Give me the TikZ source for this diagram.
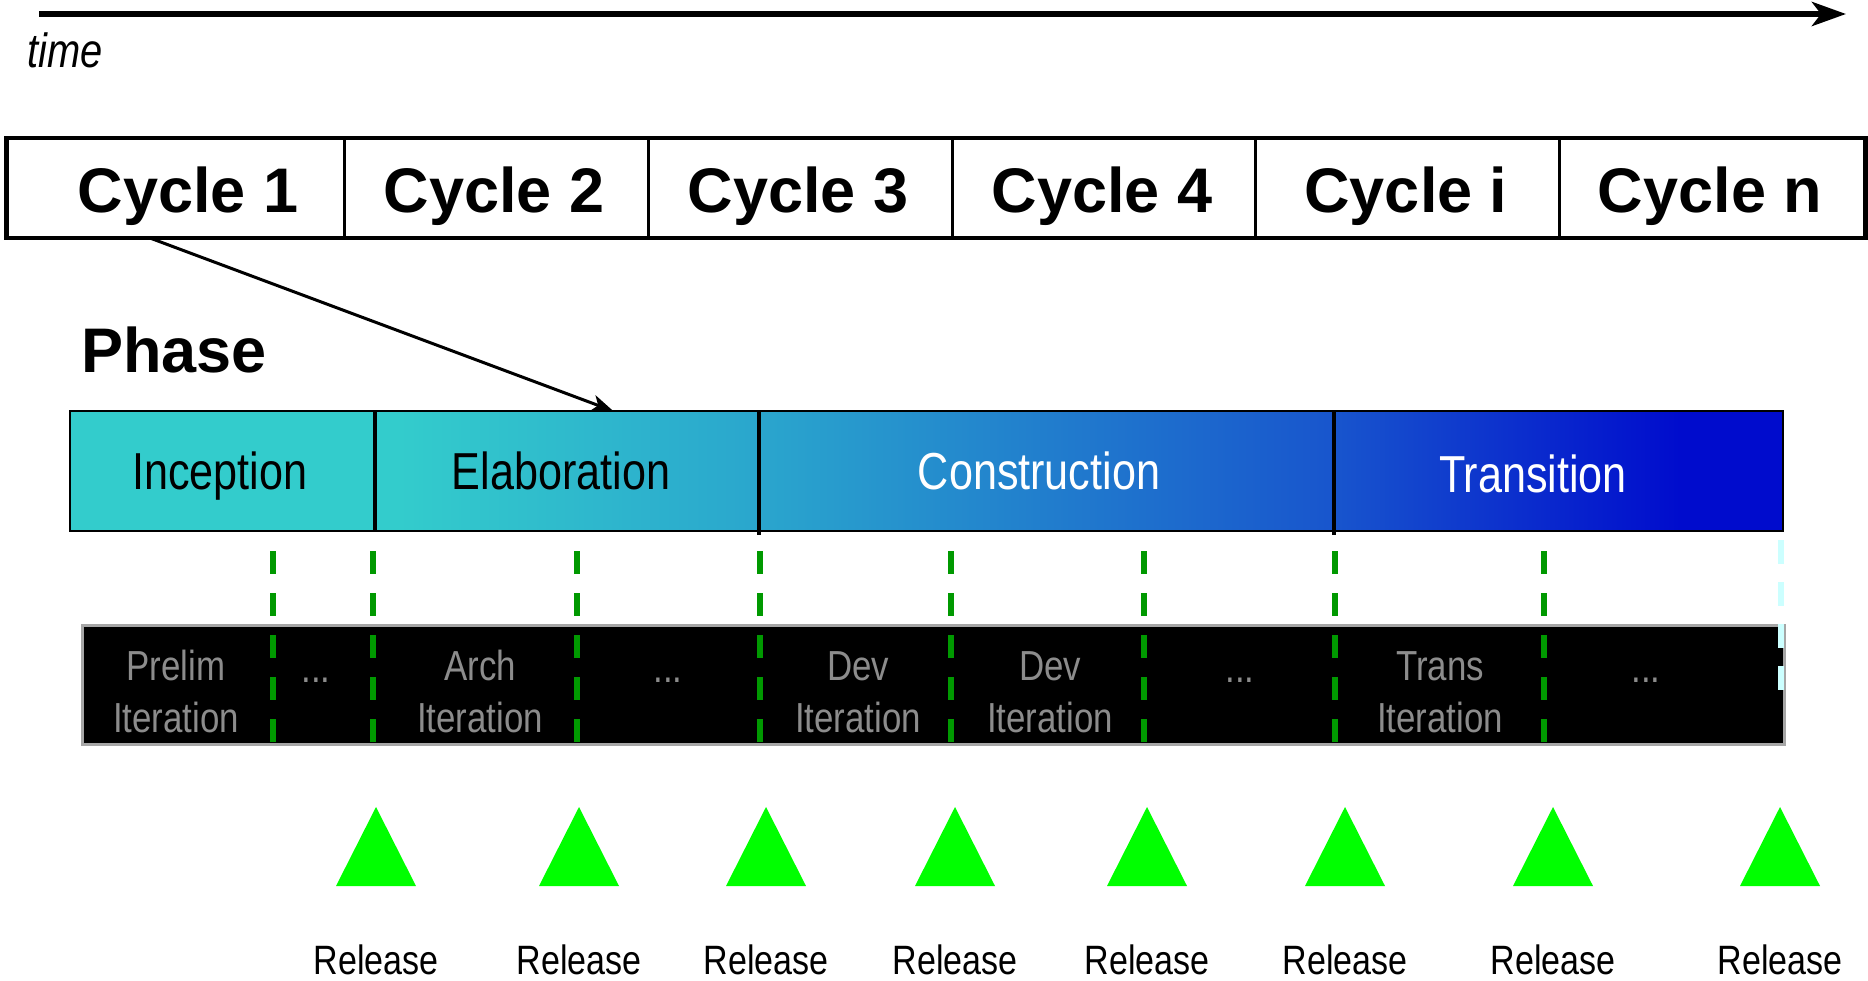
\documentclass[tikz,border=0pt]{standalone}
\usepackage{fontspec}
\setmainfont{Liberation Sans}
\newfontfamily\narrowf[FakeStretch=0.83]{Liberation Sans}
\usetikzlibrary{arrows.meta}
\definecolor{gA}{RGB}{51,204,204}
\definecolor{gB}{RGB}{42,166,205}
\definecolor{gC}{RGB}{24,85,205}
\definecolor{gD}{RGB}{0,12,205}
\definecolor{dashgreen}{RGB}{0,153,0}
\definecolor{trigreen}{RGB}{0,255,0}
\definecolor{itgray}{RGB}{140,140,140}
\definecolor{palecyan}{RGB}{204,255,255}
\pgfdeclarehorizontalshading{phasegrad}{100bp}{color(0bp)=(gA); color(34.6bp)=(gA); color(45.1bp)=(gB); color(61.9bp)=(gC); color(72bp)=(gD); color(100bp)=(gD)}
\begin{document}
\begin{tikzpicture}[x=1pt,y=-1pt,
  cell/.style={draw=black, line width=2.5pt, minimum height=98pt, inner sep=0pt, anchor=north west},
  cyclabel/.style={anchor=base, inner sep=0pt, font=\fontsize{63}{70}\selectfont\bfseries},
  phasecell/.style={minimum height=120pt, inner sep=0pt, anchor=north west},
  phaselabel/.style={anchor=base, inner sep=0pt, font=\narrowf\fontsize{52}{60}\selectfont},
  itlabel/.style={anchor=base, inner sep=0pt, text=itgray, font=\narrowf\fontsize{42}{50}\selectfont},
  rellabel/.style={anchor=base, inner sep=0pt, font=\narrowf\fontsize{41}{48}\selectfont},
  iterdash/.style={draw=dashgreen, line width=6pt, dash pattern=on 23pt off 19pt},
  relmark/.style={fill=trigreen}
]
\useasboundingbox (0,0) rectangle (1868,981);

% time arrow
\coordinate (tstart) at (39,14);
\coordinate (tend) at (1846,14);
\draw[line width=6pt, -{Stealth[length=34pt, width=24pt, inset=9pt]}] (tstart) -- (tend);
\node[anchor=base west, inner sep=0pt, font=\narrowf\itshape\fontsize{48}{56}\selectfont] (timelbl) at (27,68) {time};

% cycles
\node[cell, minimum width=337pt] (c1) at (6,138) {};
\node[cell, minimum width=304pt] (c2) at (343,138) {};
\node[cell, minimum width=304pt] (c3) at (647,138) {};
\node[cell, minimum width=303pt] (c4) at (951,138) {};
\node[cell, minimum width=304pt] (c5) at (1254,138) {};
\node[cell, minimum width=305pt] (c6) at (1558,138) {};
\draw[line width=4pt] (c1.north west) rectangle (c6.south east);
\node[cyclabel] (l1) at (188,213) {Cycle 1};
\node[cyclabel] (l2) at (494,213) {Cycle 2};
\node[cyclabel] (l3) at (798,213) {Cycle 3};
\node[cyclabel] (l4) at (1102,213) {Cycle 4};
\node[cyclabel] (l5) at (1406,213) {Cycle i};
\node[cyclabel] (l6) at (1710,213) {Cycle n};

% phase title
\node[anchor=base west, inner sep=0pt, font=\fontsize{63}{70}\selectfont\bfseries] (phasetitle) at (81,373) {Phase};

% phase bar
\shade[shading=phasegrad] (70,411) rectangle (1783,531);
\node[phasecell, minimum width=305pt] (p1) at (70,411) {};
\node[phasecell, minimum width=384pt] (p2) at (375,411) {};
\node[phasecell, minimum width=575pt] (p3) at (759,411) {};
\node[phasecell, minimum width=449pt] (p4) at (1334,411) {};
\draw[line width=2pt] (p1.north west) rectangle (p4.south east);
\draw[line width=4pt] (p2.north west) -- (p2.south west);
\draw[line width=4pt] (p3.north west) -- ([yshift=-4pt]p3.south west);
\draw[line width=4pt] (p4.north west) -- ([yshift=-4pt]p4.south west);
\node[phaselabel] (pl1) at (220,489) {Inception};
\node[phaselabel] (pl2) at (561,489) {Elaboration};
\node[phaselabel, text=white] (pl3) at (1039,489) {Construction};
\node[phaselabel, text=white] (pl4) at (1533,492) {Transition};

% arrow cycle 1 -> elaboration
\draw[line width=3pt, -{Stealth[length=22pt, width=17pt, inset=6pt]}] ([xshift=-24.5pt]c1.south) -- ([xshift=46pt]p2.north);

% iteration bar
\node[draw=gray!70, line width=2.5pt, fill=black, minimum width=1702pt, minimum height=119pt, inner sep=0pt, anchor=north west] (itbar) at (81,624) {};
\node[itlabel] (i1a) at (176,680) {Prelim};
\node[itlabel] (i1b) at (176,732) {Iteration};
\node[itlabel] (i2) at (316,682) {...};
\node[itlabel] (i3a) at (480,680) {Arch};
\node[itlabel] (i3b) at (480,732) {Iteration};
\node[itlabel] (i4) at (668,682) {...};
\node[itlabel] (i5a) at (858,680) {Dev};
\node[itlabel] (i5b) at (858,732) {Iteration};
\node[itlabel] (i6a) at (1050,680) {Dev};
\node[itlabel] (i6b) at (1050,732) {Iteration};
\node[itlabel] (i7) at (1240,682) {...};
\node[itlabel] (i8a) at (1440,680) {Trans};
\node[itlabel] (i8b) at (1440,732) {Iteration};
\node[itlabel] (i9) at (1646,682) {...};

% iteration boundaries
\foreach \x in {273,373,577,760,951,1144,1335,1544} {
  \draw[iterdash] (\x,551) -- (\x,743);
}
\draw[draw=palecyan, line width=6pt, dash pattern=on 24pt off 18pt] (1781,540) -- (1781,690);

% releases
\foreach \x/\n in {376/1,579/2,766/3,955/4,1147/5,1345/6,1553/7,1780/8} {
  \fill[relmark] (\x-40,886) -- (\x,807) -- (\x+40,886) -- cycle;
  \node[rellabel] (r\n) at (\x,974) {Release};
}
\end{tikzpicture}
\end{document}
